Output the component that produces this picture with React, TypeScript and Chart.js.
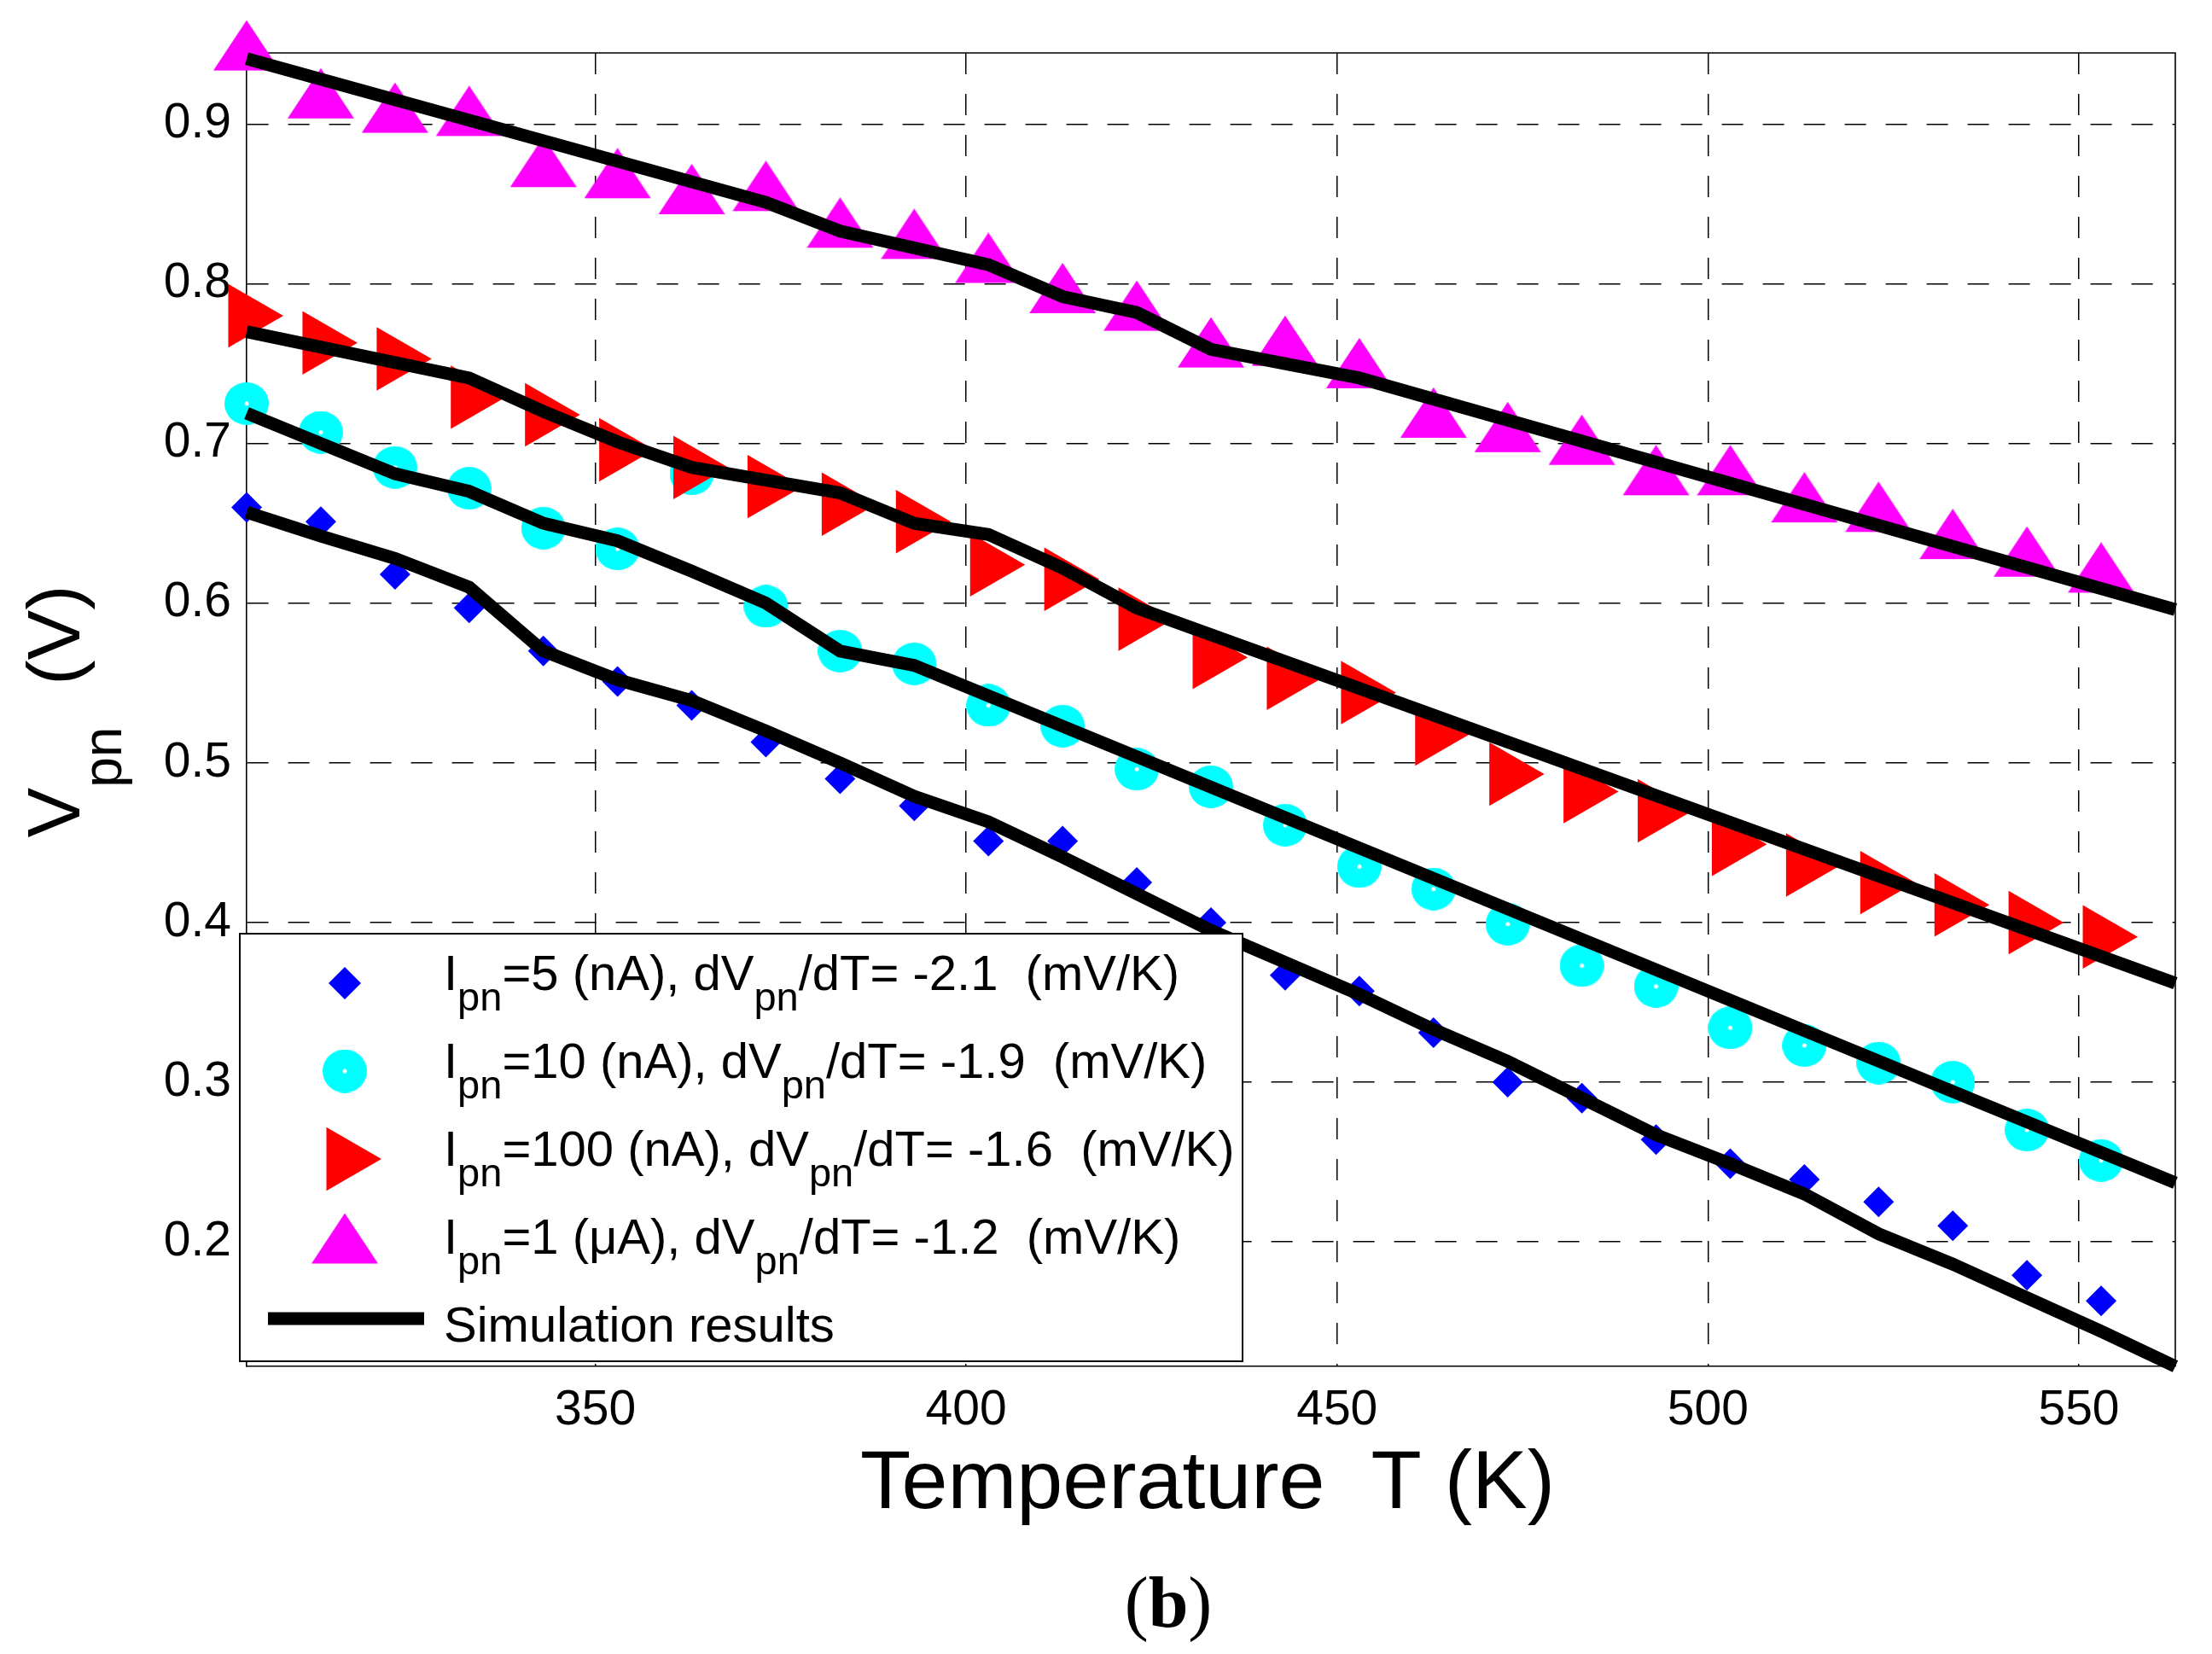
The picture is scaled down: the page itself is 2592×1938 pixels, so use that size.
import React, { useEffect, useRef } from "react";
import { Chart, registerables } from "chart.js";
import { drawPoint } from "chart.js/helpers";

Chart.register(...registerables);

const FONT = '"Liberation Sans", Arial, Helvetica, sans-serif';
const SERIF = '"Liberation Serif", "Times New Roman", serif';
Chart.defaults.font.family = FONT;

// measured points, temperature in K
const temps = [
  303, 313, 323, 333, 343, 353, 363, 373, 383, 393, 403, 413, 423,
  433, 443, 453, 463, 473, 483, 493, 503, 513, 523, 533, 543, 553,
];
const vpn5nA = [
  0.66, 0.651, 0.618, 0.597, 0.57, 0.551, 0.536, 0.513, 0.49, 0.473, 0.451, 0.451, 0.425,
  0.4, 0.367, 0.357, 0.331, 0.3, 0.29, 0.264, 0.249, 0.239, 0.225, 0.21, 0.179, 0.163,
];
const vpn10nA = [
  0.725, 0.707, 0.685, 0.672, 0.647, 0.634, 0.681, 0.598, 0.57, 0.562, 0.536, 0.523, 0.496,
  0.485, 0.461, 0.435, 0.421, 0.399, 0.373, 0.36, 0.334, 0.323, 0.312, 0.3, 0.27, 0.251,
];
const vpn100nA = [
  0.78, 0.763, 0.753, 0.729, 0.718, 0.696, 0.685, 0.673, 0.662, 0.651, 0.624, 0.615, 0.59,
  0.566, 0.553, 0.544, 0.518, 0.493, 0.482, 0.47, 0.449, 0.436, 0.425, 0.411, 0.4, 0.391,
];
const vpn1uA = [
  0.944, 0.914, 0.905, 0.903, 0.871, 0.864, 0.854, 0.856, 0.833, 0.826, 0.811, 0.792, 0.781,
  0.758, 0.759, 0.745, 0.714, 0.705, 0.697, 0.678, 0.678, 0.661, 0.655, 0.638, 0.627, 0.617,
];

// simulation curves (polyline vertices)
const sim5nA_T = [
  303, 313, 323, 333, 343, 353, 363, 373, 383, 393, 403, 413, 423, 433,
  443, 453, 463, 473, 483, 493, 503, 513, 523, 533, 543, 553, 563,
];
const sim5nA_V = [
  0.657, 0.642, 0.628, 0.61, 0.57, 0.552, 0.539, 0.52, 0.5, 0.479, 0.463, 0.441, 0.418, 0.395,
  0.375, 0.355, 0.333, 0.313, 0.29, 0.267, 0.249, 0.23, 0.205, 0.186, 0.165, 0.144, 0.122,
];
const sim10nA_T = [303, 313, 323, 333, 343, 353, 363, 373, 383, 393, 563];
const sim10nA_V = [0.719, 0.7, 0.681, 0.67, 0.65, 0.639, 0.62, 0.6, 0.57, 0.561, 0.237];
const sim100nA_T = [303, 333, 343, 353, 363, 373, 383, 393, 403, 413, 423, 563];
const sim100nA_V = [0.77, 0.741, 0.72, 0.701, 0.685, 0.677, 0.669, 0.65, 0.643, 0.622, 0.597, 0.362];
const sim1uA_T = [303, 373, 383, 403, 413, 423, 433, 443, 453, 563];
const sim1uA_V = [0.941, 0.851, 0.833, 0.812, 0.792, 0.782, 0.759, 0.75, 0.741, 0.596];

const xTicks = [350, 400, 450, 500, 550];
const yTicks = [0.2, 0.3, 0.4, 0.5, 0.6, 0.7, 0.8, 0.9];

const legendLabels = [
  "I_{pn}=5 (nA), dV_{pn}/dT= -2.1  (mV/K)",
  "I_{pn}=10 (nA), dV_{pn}/dT= -1.9  (mV/K)",
  "I_{pn}=100 (nA), dV_{pn}/dT= -1.6  (mV/K)",
  "I_{pn}=1 (μA), dV_{pn}/dT= -1.2  (mV/K)",
  "Simulation results",
];
const xTitle = "Temperature  T (K)";
const yTitle = "V_{pn}  (V)";

const toXY = (xs: number[], ys: number[]) => xs.map((x, i) => ({ x, y: ys[i] }));

// MATLAB style markers as small canvases
function triangleUp(w: number, h: number, color: string) {
  const c = document.createElement("canvas");
  c.width = w;
  c.height = Math.round((h * 4) / 3); // centroid sits at canvas centre
  const g = c.getContext("2d")!;
  g.fillStyle = color;
  g.beginPath();
  g.moveTo(w / 2, 0);
  g.lineTo(w, h);
  g.lineTo(0, h);
  g.closePath();
  g.fill();
  return c;
}

function dottedCircle(w: number, h: number, color: string) {
  const c = document.createElement("canvas");
  c.width = w;
  c.height = h;
  const g = c.getContext("2d")!;
  g.fillStyle = color;
  g.beginPath();
  g.ellipse(w / 2, h / 2, w / 2, h / 2, 0, 0, Math.PI * 2);
  g.fill();
  g.fillStyle = "#fff";
  g.beginPath();
  g.arc(w / 2, h / 2, 2.5, 0, Math.PI * 2);
  g.fill();
  return c;
}

function richParts(label: string) {
  return label
    .split(/_\{([^}]*)\}/)
    .map((t, i) => ({ t, sub: i % 2 === 1 }))
    .filter((p) => p.t.length > 0);
}

function measureRich(ctx: CanvasRenderingContext2D, label: string, size: number, subSize: number) {
  let w = 0;
  for (const p of richParts(label)) {
    ctx.font = `${p.sub ? subSize : size}px ${FONT}`;
    w += ctx.measureText(p.t).width;
  }
  return w;
}

function drawRich(
  ctx: CanvasRenderingContext2D,
  label: string,
  x: number,
  y: number,
  size: number,
  subSize: number,
  drop: number
) {
  let cx = x;
  for (const p of richParts(label)) {
    ctx.font = `${p.sub ? subSize : size}px ${FONT}`;
    ctx.fillText(p.t, cx, p.sub ? y + drop : y);
    cx += ctx.measureText(p.t).width;
  }
}

export default function App() {
  const canvasRef = useRef<HTMLCanvasElement | null>(null);

  useEffect(() => {
    const canvas = canvasRef.current;
    if (!canvas) return;

    const magentaTri = triangleUp(78, 59, "#ff00ff");
    const cyanDot = dottedCircle(52, 50, "#00ffff");
    const cyanDotLegend = dottedCircle(52, 51, "#00ffff");

    // marker styles, shared by datasets and legend
    const markers = [
      { color: "#0000ff", style: "rectRot" as any, radius: 18, legendRadius: 19, rotation: 0 },
      { color: "#00ffff", style: cyanDot as any, radius: 26, legendStyle: cyanDotLegend, rotation: 0 },
      { color: "#ff0000", style: "triangle" as any, radius: 43, rotation: 90 },
      { color: "#ff00ff", style: magentaTri as any, radius: 39, rotation: 0 },
    ];
    const measured = [vpn5nA, vpn10nA, vpn100nA, vpn1uA];

    const pointSets = measured.map((vals, i) => ({
      data: toXY(temps, vals),
      showLine: false,
      pointStyle: markers[i].style,
      pointRadius: markers[i].radius,
      pointRotation: markers[i].rotation,
      pointBackgroundColor: markers[i].color,
      pointBorderWidth: 0,
      borderWidth: 0,
      clip: false as any,
      order: 4 - i,
    }));

    const simSets = [
      toXY(sim5nA_T, sim5nA_V),
      toXY(sim10nA_T, sim10nA_V),
      toXY(sim100nA_T, sim100nA_V),
      toXY(sim1uA_T, sim1uA_V),
    ].map((d) => ({
      data: d,
      borderColor: "#000",
      borderWidth: 15,
      borderJoinStyle: "miter" as const,
      borderCapStyle: "butt" as const,
      pointRadius: 0,
      tension: 0,
      clip: false as any,
      order: 0,
    }));

    const decor = {
      id: "figureDecor",
      beforeDatasetsDraw(chart: Chart) {
        const { ctx, chartArea: a } = chart;
        ctx.save();
        ctx.strokeStyle = "#000";
        ctx.lineWidth = 1.6;
        ctx.beginPath();
        ctx.moveTo(a.left, a.top);
        ctx.lineTo(a.right, a.top);
        ctx.lineTo(a.right, a.bottom);
        ctx.stroke();
        ctx.restore();
      },
      afterDraw(chart: Chart) {
        const { ctx, chartArea: a } = chart;
        const cx = (a.left + a.right) / 2;
        const cy = (a.top + a.bottom) / 2;
        ctx.save();
        ctx.fillStyle = "#000";
        ctx.textBaseline = "alphabetic";
        ctx.textAlign = "left";

        // x axis title
        ctx.font = `97px ${FONT}`;
        ctx.textAlign = "center";
        ctx.fillText(xTitle, cx - 4, a.bottom + 166);
        ctx.textAlign = "left";

        // y axis title, rotated, with subscript
        ctx.save();
        ctx.translate(93, cy + 2);
        ctx.rotate(-Math.PI / 2);
        const yw = measureRich(ctx, yTitle, 88, 64);
        drawRich(ctx, yTitle, -yw / 2, 0, 88, 64, 49);
        ctx.restore();

        // legend box
        const bx = a.left - 8;
        const by = a.bottom - 507;
        const bw = 1175;
        const bh = 501;
        ctx.fillStyle = "#fff";
        ctx.fillRect(bx, by, bw, bh);
        ctx.strokeStyle = "#000";
        ctx.lineWidth = 2;
        ctx.strokeRect(bx, by, bw, bh);

        const mx = a.left + 115;
        const tx = a.left + 231;
        legendLabels.forEach((label, i) => {
          const base = by + 66 + i * 103;
          if (i < markers.length) {
            const m = markers[i];
            ctx.fillStyle = m.color;
            drawPoint(
              ctx,
              {
                pointStyle: (m as any).legendStyle || m.style,
                radius: (m as any).legendRadius || m.radius,
                rotation: m.rotation,
                borderWidth: 0,
              } as any,
              mx,
              base - 8
            );
          } else {
            ctx.strokeStyle = "#000";
            ctx.lineWidth = 15;
            ctx.beginPath();
            ctx.moveTo(a.left + 25, base - 27);
            ctx.lineTo(a.left + 208, base - 27);
            ctx.stroke();
          }
          ctx.fillStyle = "#000";
          drawRich(ctx, label, tx, base, 58, 47, 24);
        });

        // panel caption "(b)"
        const capY = a.bottom + 305;
        ctx.font = `84px ${SERIF}`;
        const wp = ctx.measureText("(").width;
        ctx.font = `bold 84px ${SERIF}`;
        const wb = ctx.measureText("b").width;
        let px = cx - 50 - (2 * wp + wb) / 2;
        ctx.font = `84px ${SERIF}`;
        ctx.fillText("(", px, capY);
        px += wp;
        ctx.font = `bold 84px ${SERIF}`;
        ctx.fillText("b", px, capY);
        px += wb;
        ctx.font = `84px ${SERIF}`;
        ctx.fillText(")", px, capY);
        ctx.restore();
      },
    };

    const chart = new Chart(canvas, {
      type: "line",
      data: { datasets: [...simSets, ...pointSets] as any },
      options: {
        animation: false,
        responsive: false,
        devicePixelRatio: 1,
        events: [],
        layout: { padding: { left: 0, right: 31, top: 62, bottom: 0 } },
        plugins: {
          legend: { display: false },
          tooltip: { enabled: false },
        },
        scales: {
          x: {
            type: "linear",
            min: 303,
            max: 563,
            afterBuildTicks: (s: any) => {
              s.ticks = xTicks.map((v) => ({ value: v }));
            },
            afterFit: (s: any) => {
              s.height = 337;
            },
            grid: { color: "#000", lineWidth: 1.5, drawTicks: false },
            border: { display: true, color: "#000", width: 1.6, dash: [25, 23] },
            ticks: {
              color: "#000",
              font: { size: 57 },
              padding: 18,
              maxRotation: 0,
              callback: (v: any) => String(v),
            },
          },
          y: {
            type: "linear",
            min: 0.122,
            max: 0.9446,
            afterBuildTicks: (s: any) => {
              s.ticks = yTicks.map((v) => ({ value: v }));
            },
            afterFit: (s: any) => {
              s.width = 289;
            },
            grid: { color: "#000", lineWidth: 1.5, drawTicks: false },
            border: { display: true, color: "#000", width: 1.6, dash: [25, 23] },
            ticks: {
              color: "#000",
              font: { size: 57 },
              padding: 18,
              callback: (v: any) => Number(v).toFixed(1),
            },
          },
        },
      },
      plugins: [decor],
    });

    return () => {
      chart.destroy();
    };
  }, []);

  return (
    <div style={{ position: "absolute", left: 0, top: 0, width: 2592, height: 1938, background: "#fff" }}>
      <canvas ref={canvasRef} width={2592} height={1938} style={{ display: "block", width: 2592, height: 1938 }} />
    </div>
  );
}
